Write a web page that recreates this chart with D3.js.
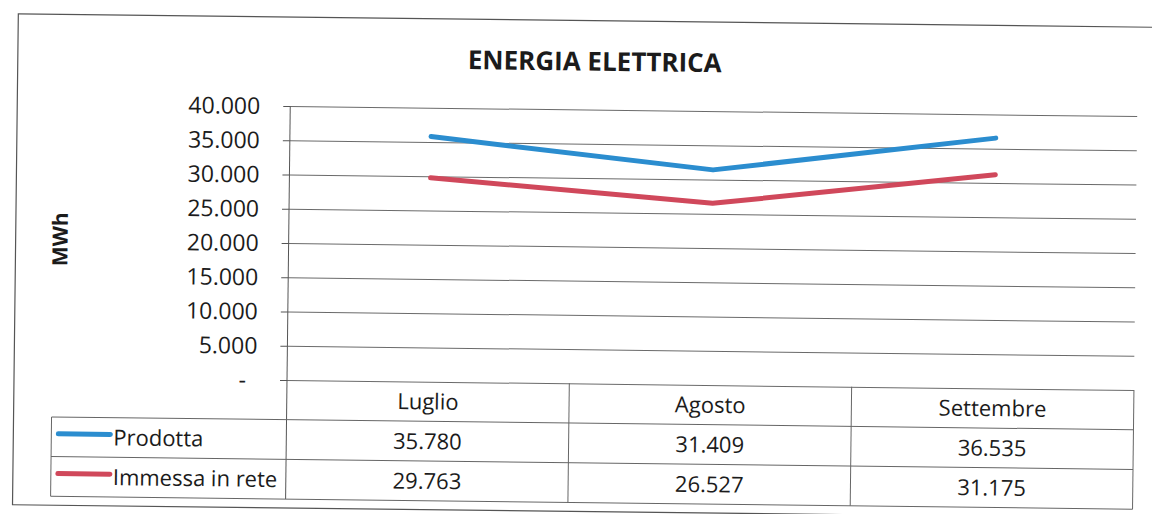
<!DOCTYPE html>
<html>
<head>
<meta charset="utf-8">
<script src="https://cdn.jsdelivr.net/npm/d3@7"></script>
<style>
  body { margin: 0; background: #fff; }
  svg { display: block; }
  text { font-family: "Open Sans", "DejaVu Sans", sans-serif; fill: #1b1b1b; }
</style>
</head>
<body>
<script>
// chart data
var months = ["Luglio", "Agosto", "Settembre"];
var seriesNames = ["Prodotta", "Immessa in rete"];
var prodotta = [35780, 31409, 36535];
var immessa = [29763, 26527, 31175];
var yTicks = [0, 5000, 10000, 15000, 20000, 25000, 30000, 35000, 40000];
var colors = ["#2b8dcf", "#d0485b"];

var width = 1152, height = 514;
var plotL = 287, plotR = 1134, plotT = 106, plotB = 380;
var rowH = 39.7;

var it = d3.formatLocale({decimal: ",", thousands: ".", grouping: [3], currency: ["", "€"]});
var fmt = it.format(",.0f");

var svg = d3.select("body").append("svg")
  .attr("width", width)
  .attr("height", height);

// scanned page is a little tilted
var g = svg.append("g").attr("transform", "rotate(0.68," + plotL + "," + plotB + ")");

// outer frame
g.append("rect")
  .attr("x", 14).attr("y", 17)
  .attr("width", 1160).attr("height", 491)
  .attr("fill", "none")
  .attr("stroke", "#555")
  .attr("stroke-width", 1.2);

g.append("text")
  .attr("x", 591).attr("y", 67)
  .attr("text-anchor", "middle")
  .attr("font-size", 26).attr("font-weight", "bold")
  .text("ENERGIA ELETTRICA");

g.append("text")
  .attr("transform", "translate(66,242) rotate(-90)")
  .attr("text-anchor", "middle")
  .attr("font-size", 21).attr("font-weight", "bold")
  .text("MWh");

var x = d3.scaleBand().domain(months).range([plotL, plotR]);
var y = d3.scaleLinear().domain([0, 40000]).range([plotB, plotT]);

// gridlines
var grid = g.append("g")
  .attr("transform", "translate(" + plotL + ",0)")
  .call(d3.axisLeft(y).tickValues(yTicks).tickSize(-(plotR - plotL)).tickFormat(""));
grid.select(".domain").remove();
grid.selectAll("line").attr("stroke", "#6a6a6a").attr("stroke-width", 1);

// y axis
var yAxis = g.append("g")
  .attr("transform", "translate(" + plotL + ",0)")
  .call(d3.axisLeft(y).tickValues(yTicks).tickSize(7).tickPadding(23)
    .tickFormat(function (d) { return d === 0 ? "-" : fmt(d); }));
yAxis.select(".domain").attr("stroke", "#555").attr("d", "M0," + plotT + "V" + (plotB + 3 * rowH));
yAxis.selectAll("line").attr("stroke", "#555");
yAxis.selectAll("text")
  .attr("font-size", 23)
  .attr("font-family", "'Open Sans', sans-serif")
  .attr("fill", "#1b1b1b")
  .attr("dy", "0.34em");
yAxis.selectAll(".tick text").filter(function (d) { return d === 0; }).attr("x", -41);

// lines
var series = [prodotta, immessa];
var line = d3.line()
  .x(function (d, i) { return x(months[i]) + x.bandwidth() / 2; })
  .y(function (d) { return y(d); });

g.selectAll(".serie").data(series).enter().append("path")
  .attr("class", "serie")
  .attr("d", line)
  .attr("fill", "none")
  .attr("stroke", function (d, i) { return colors[i]; })
  .attr("stroke-width", 5)
  .attr("stroke-linecap", "round")
  .attr("stroke-linejoin", "round");

// data table
var tbl = g.append("g");
var lineCol = "#666";

// horizontal rules
[1, 2, 3].forEach(function (r) {
  tbl.append("line")
    .attr("x1", 52).attr("x2", plotR)
    .attr("y1", plotB + r * rowH).attr("y2", plotB + r * rowH)
    .attr("stroke", lineCol);
});
// vertical rules
tbl.append("line")
  .attr("x1", 52).attr("x2", 52)
  .attr("y1", plotB + rowH).attr("y2", plotB + 3 * rowH)
  .attr("stroke", lineCol);
months.forEach(function (m) {
  tbl.append("line")
    .attr("x1", x(m) + x.bandwidth()).attr("x2", x(m) + x.bandwidth())
    .attr("y1", plotB).attr("y2", plotB + 3 * rowH)
    .attr("stroke", lineCol);
});

tbl.selectAll(".head").data(months).enter().append("text")
  .attr("class", "head")
  .attr("x", function (d) { return x(d) + x.bandwidth() / 2; })
  .attr("y", plotB + rowH / 2)
  .attr("dy", "0.36em")
  .attr("text-anchor", "middle")
  .attr("font-size", 22)
  .text(function (d) { return d; });

series.forEach(function (s, si) {
  var cy = plotB + (si + 1.5) * rowH;
  tbl.append("line")
    .attr("x1", 59).attr("x2", 111)
    .attr("y1", cy - 3).attr("y2", cy - 3)
    .attr("stroke", colors[si])
    .attr("stroke-width", 5)
    .attr("stroke-linecap", "round");
  tbl.append("text")
    .attr("x", 114).attr("y", cy)
    .attr("dy", "0.36em")
    .attr("font-size", 22)
    .text(seriesNames[si]);
  tbl.selectAll(".v" + si).data(s).enter().append("text")
    .attr("x", function (d, i) { return x(months[i]) + x.bandwidth() / 2; })
    .attr("y", cy)
    .attr("dy", "0.36em")
    .attr("text-anchor", "middle")
    .attr("font-size", 22)
    .text(function (d) { return fmt(d); });
});
</script>
</body>
</html>
